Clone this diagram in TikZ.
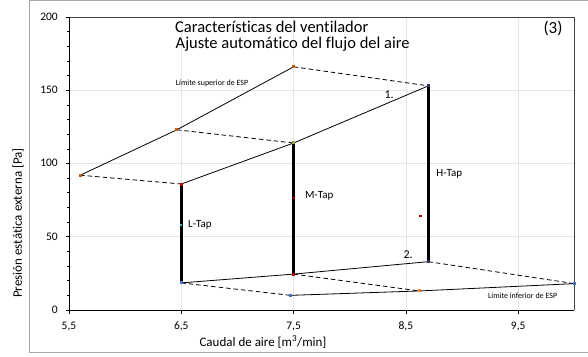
\documentclass[tikz,border=0pt]{standalone}
\usepackage{fontspec}
\setmainfont{Carlito}[Ligatures=NoCommon]
\definecolor{mkorange}{RGB}{197,90,17}
\definecolor{mkblue}{RGB}{68,114,196}
\definecolor{mkred}{RGB}{192,0,0}
\definecolor{mkgreen}{RGB}{146,168,60}
\definecolor{mknavy}{RGB}{50,50,100}
\definecolor{mkcyan}{RGB}{75,172,198}
\definecolor{mkorange2}{RGB}{237,125,49}
\begin{document}
\begin{tikzpicture}[x=1pt,y=1pt,
  thinline/.style={line width=0.8pt, black},
  dashline/.style={line width=0.8pt, black, dash pattern=on 4.5pt off 3pt},
  tapline/.style={line width=2.8pt, black},
  gridline/.style={line width=0.5pt, black!10},
  mk/.style={fill=#1, draw=none, rectangle, inner sep=0pt, minimum size=3pt},
  dotmk/.style={fill=#1, draw=none, rectangle, inner sep=0pt, minimum size=2pt},
  ticklabel/.style={font=\fontsize{11.5}{13}\selectfont, inner sep=0pt},
  axistitle/.style={font=\fontsize{13}{15}\selectfont, inner sep=0pt},
  taplabel/.style={font=\fontsize{11}{13}\selectfont, inner sep=0pt, anchor=west},
  limlabel/.style={font=\fontsize{8}{9}\selectfont, inner sep=0pt, anchor=west},
  titletext/.style={font=\fontsize{16.5}{18}\selectfont, inner sep=0pt, anchor=base west}
]
\useasboundingbox (0,0) rectangle (588,356);
% outer chart frame
\draw[black!35, line width=1pt] (588,355) -- (29.5,355) -- (29.5,3.3) -- (588,3.3);

\begin{scope}[shift={(-548.65pt,46pt)}, x=112.3pt, y=1.465pt]
  % grid
  \foreach \gx in {6.5,7.5,8.5,9.5} \draw[gridline] (\gx,0) -- (\gx,200);
  \foreach \gy in {50,100,150} \draw[gridline] (5.5,\gy) -- (10,\gy);
  % plot frame
  \draw[black!75, line width=0.8pt] (5.5,200) -- (10,200) -- (10,0);
  \draw[black, line width=1pt] (5.5,200) -- (5.5,0) -- (10,0);
  % ticks
  \foreach \v in {0,50,...,200} {
    \draw[black, line width=0.8pt] (5.5,\v) -- ++(-3.5pt,0);
    \node[ticklabel, anchor=base east] at ([xshift=-11pt,yshift=-3.5pt]5.5,\v) {\v};
  }
  \foreach \v in {10,20,30,40,60,70,80,90,110,120,130,140,160,170,180,190}
    \draw[black, line width=0.6pt] (5.5,\v) -- ++(-2.5pt,0);
  \foreach \xv/\xl in {5.5/{5,5},6.5/{6,5},7.5/{7,5},8.5/{8,5},9.5/{9,5}} {
    \draw[black, line width=0.8pt] (\xv,0) -- ++(0,-3.5pt);
    \node[ticklabel, anchor=base] at ([yshift=-19.5pt]\xv,0) {\xl};
  }

  % data points
  \coordinate (u1) at (5.6,92);
  \coordinate (u2) at (6.46,123);
  \coordinate (u3) at (7.5,166);
  \coordinate (Lt) at (6.5,86);
  \coordinate (Mt) at (7.5,114);
  \coordinate (Ht) at (8.7,153);
  \coordinate (Lb) at (6.5,18.5);
  \coordinate (Mb) at (7.5,24.5);
  \coordinate (Hb) at (8.7,33);
  \coordinate (l1) at (7.47,10);
  \coordinate (l2) at (8.62,13);
  \coordinate (l3) at (10,18);

  % solid curves
  \draw[thinline] (u1) -- (u2) -- (u3);
  \draw[thinline] (Lt) -- (Mt) -- (Ht);
  \draw[thinline] (Lb) -- (Mb) -- (Hb);
  \draw[thinline] (l1) -- (l2) -- (l3);
  % dashed connectors
  \draw[dashline] (u1) -- (Lt);
  \draw[dashline] (u2) -- (Mt);
  \draw[dashline] (u3) -- (Ht);
  \draw[dashline] (Lb) -- (l1);
  \draw[dashline] (Mb) -- (l2);
  \draw[dashline] (Hb) -- (l3);
  % taps
  \draw[tapline] (Lt) -- (Lb);
  \draw[tapline] (Mt) -- (Mb);
  \draw[tapline] (Ht) -- (Hb);

  % markers
  \node[mk=mkorange] at (u1) {};
  \node[mk=mkorange] at (u2) {};
  \node[mk=mkorange] at (u3) {};
  \node[mk=mkred] at (Lt) {};
  \node[mk=mkgreen] at (Mt) {};
  \node[mk=mknavy] at (Ht) {};
  \node[mk=mkblue] at (Lb) {};
  \node[mk=mkred] at (Mb) {};
  \node[mk=mknavy] at (Hb) {};
  \node[mk=mkblue] at (l1) {};
  \node[mk=mkorange2] at (l2) {};
  \node[mk=mkblue] at (l3) {};
  \node[dotmk=mkcyan] at (6.5,58) {};
  \node[dotmk=mkred] at (7.5,76.5) {};
  \node[dotmk=mkred, minimum size=2.5pt] at (8.63,64) {};

  % labels
  \node[taplabel] (ltap) at (6.56,58) {L-Tap};
  \node[taplabel] (mtap) at (7.6,78) {M-Tap};
  \node[taplabel] (htap) at (8.77,93) {H-Tap};
  \node[font=\fontsize{12}{14}\selectfont, inner sep=0pt] (one) at (8.35,147) {1.};
  \node[font=\fontsize{12}{14}\selectfont, inner sep=0pt] (two) at (8.52,37.5) {2.};
  \node[limlabel] (sup) at (6.45,154.7) {Límite superior de ESP};
  \node[limlabel] (inf) at (9.23,9.6) {Límite inferior de ESP};
\end{scope}

% titles
\node[titletext] (t1) at (175,323.5) {Características del ventilador};
\node[titletext] (t2) at (175.5,307) {Ajuste automático del flujo del aire};
\node[font=\fontsize{17}{19}\selectfont, inner sep=0pt, anchor=base] (num) at (553,322.5) {(3)};
\node[axistitle, anchor=base] (xt) at (263,10) {Caudal de aire [m\textsuperscript{3}/min]};
\node[axistitle, rotate=90] (yt) at (18,133) {Presión estática externa [Pa]};
\end{tikzpicture}
\end{document}
